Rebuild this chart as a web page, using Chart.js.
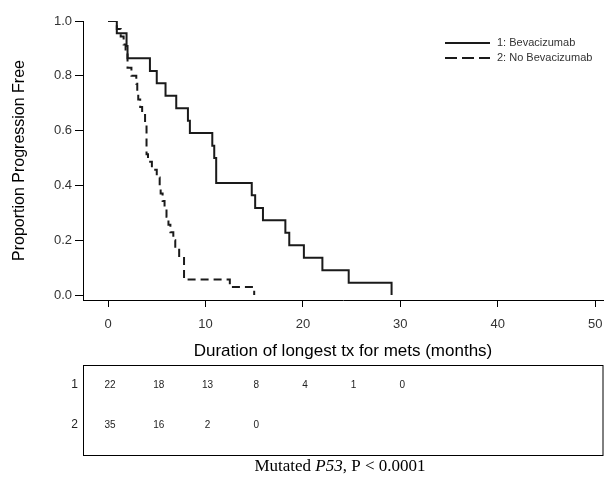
<!DOCTYPE html>
<html>
<head>
<meta charset="utf-8">
<script src="https://cdn.jsdelivr.net/npm/chart.js@4"></script>
<style>
  html, body { margin: 0; padding: 0; background: #fff; }
</style>
</head>
<body>
<canvas id="km" width="604" height="479"></canvas>
<script>
// Kaplan-Meier steps (months, proportion free after the drop)
const bevTimes = [0, 0.9, 1.9, 2.0, 4.3, 5.0, 5.9, 7.0, 8.2, 8.4, 10.7, 10.9, 11.1, 14.75, 15.1, 15.9, 18.2, 18.6, 20.1, 22.0, 24.7, 29.1];
const bevSurv = [1.0, 0.955, 0.909, 0.864, 0.818, 0.773, 0.727, 0.682, 0.636, 0.591, 0.545, 0.5, 0.409, 0.364, 0.318, 0.273, 0.227, 0.182, 0.136, 0.091, 0.045, 0];

const noBevTimes = [0, 0.9, 1.3, 1.6, 1.8, 2.0, 2.4, 2.9, 3.0, 3.1, 3.3, 3.5, 3.8, 3.95, 4.1, 4.5, 5.0, 5.3, 5.4, 5.6, 5.8, 6.0, 6.2, 6.4, 6.7, 6.9, 7.3, 7.8, 12.5, 15.0];
const noBevSurv = [1.0, 0.971, 0.943, 0.914, 0.886, 0.829, 0.8, 0.771, 0.743, 0.714, 0.686, 0.657, 0.629, 0.514, 0.486, 0.457, 0.429, 0.4, 0.371, 0.343, 0.314, 0.286, 0.257, 0.229, 0.2, 0.171, 0.143, 0.057, 0.029, 0];

const seriesLabels = ['1: Bevacizumab', '2: No Bevacizumab'];
const xTicks = [0, 10, 20, 30, 40, 50];
const yTicks = [0, 0.2, 0.4, 0.6, 0.8, 1.0];

// numbers at risk
const riskTimes = [0, 5, 10, 15, 20, 25, 30];
const riskBev = [22, 18, 13, 8, 4, 1, 0];
const riskNoBev = [35, 16, 2, 0];
const riskRowLabels = ['1', '2'];

const SANS = 'Arial, "Liberation Sans", sans-serif';
const SERIF = '"Times New Roman", "Liberation Serif", serif';
const toPoints = (xs, ys) => xs.map((x, i) => ({ x: x, y: ys[i] }));

const legendPlugin = {
  id: 'kmLegend',
  afterDraw(chart) {
    const ctx = chart.ctx;
    ctx.save();
    chart.data.datasets.forEach((ds, i) => {
      const y = 43 + i * 15;
      ctx.strokeStyle = ds.borderColor;
      ctx.lineWidth = 2;
      ctx.setLineDash(ds.borderDash ? [12, 5] : []);
      ctx.beginPath();
      ctx.moveTo(445, y);
      ctx.lineTo(490, y);
      ctx.stroke();
      ctx.setLineDash([]);
      ctx.fillStyle = '#333';
      ctx.font = '11px ' + SANS;
      ctx.textAlign = 'left';
      ctx.textBaseline = 'middle';
      ctx.fillText(ds.label, 497, y);
    });
    ctx.restore();
  }
};

const riskTablePlugin = {
  id: 'riskTable',
  afterDraw(chart) {
    const ctx = chart.ctx;
    const xs = chart.scales.x;
    const left = chart.chartArea.left;
    const right = chart.width - 1;
    ctx.save();
    ctx.strokeStyle = '#000';
    ctx.lineWidth = 1;
    ctx.strokeRect(left + 0.5, 365.5, right - left - 0.5, 90);

    const rows = [riskBev, riskNoBev];
    const rowY = [385, 425];
    rows.forEach((vals, r) => {
      ctx.fillStyle = '#222';
      ctx.font = '12px ' + SANS;
      ctx.textAlign = 'right';
      ctx.textBaseline = 'middle';
      ctx.fillText(riskRowLabels[r], left - 5, rowY[r]);
      ctx.font = '10px ' + SANS;
      ctx.textAlign = 'center';
      vals.forEach((v, i) => {
        ctx.fillText(String(v), xs.getPixelForValue(riskTimes[i]) + 2, rowY[r]);
      });
    });

    // caption with italic gene name
    const parts = [['Mutated ', ''], ['P53', 'italic '], [', P < 0.0001', '']];
    ctx.fillStyle = '#000';
    ctx.textAlign = 'left';
    ctx.textBaseline = 'middle';
    let total = 0;
    parts.forEach(p => { ctx.font = p[1] + '17px ' + SERIF; total += ctx.measureText(p[0]).width; });
    let x = 340 - total / 2;
    parts.forEach(p => {
      ctx.font = p[1] + '17px ' + SERIF;
      ctx.fillText(p[0], x, 467);
      x += ctx.measureText(p[0]).width;
    });
    ctx.restore();
  }
};

new Chart(document.getElementById('km').getContext('2d'), {
  type: 'line',
  data: {
    datasets: [
      {
        label: seriesLabels[0],
        data: toPoints(bevTimes, bevSurv),
        borderColor: '#1a1a1a',
        borderWidth: 2,
        stepped: true,
        pointRadius: 0,
        fill: false
      },
      {
        label: seriesLabels[1],
        data: toPoints(noBevTimes, noBevSurv),
        borderColor: '#1a1a1a',
        borderWidth: 2,
        borderDash: [8, 5],
        stepped: true,
        pointRadius: 0,
        fill: false
      }
    ]
  },
  options: {
    responsive: false,
    animation: false,
    layout: { padding: { left: 10, right: 1, top: 21, bottom: 117 } },
    plugins: {
      legend: { display: false },
      tooltip: { enabled: false }
    },
    scales: {
      x: {
        type: 'linear',
        min: -2.57,
        max: 50.8,
        afterBuildTicks: s => { s.ticks = xTicks.map(v => ({ value: v })); },
        afterFit: s => { s.height = 62; s.paddingLeft = 0; s.paddingRight = 0; },
        grid: { drawOnChartArea: false, drawTicks: true, tickLength: 7, color: '#000' },
        border: { display: true, color: '#000', width: 1 },
        ticks: { color: '#333', font: { size: 13, family: SANS }, padding: 10, maxRotation: 0 },
        title: {
          display: true,
          text: 'Duration of longest tx for mets (months)',
          color: '#000',
          font: { size: 17, family: SANS },
          padding: { top: 4, bottom: 0 }
        }
      },
      y: {
        min: -0.018,
        max: 1.0,
        afterBuildTicks: s => { s.ticks = yTicks.map(v => ({ value: v })); },
        afterFit: s => { s.width = 73; s.paddingTop = 0; s.paddingBottom = 0; },
        grid: { drawOnChartArea: false, drawTicks: true, tickLength: 8, color: '#000' },
        border: { display: true, color: '#000', width: 1 },
        ticks: { color: '#333', font: { size: 13, family: SANS }, padding: 3, callback: v => v.toFixed(1) },
        title: {
          display: true,
          text: 'Proportion Progression Free',
          color: '#000',
          font: { size: 16, family: SANS },
          padding: 0
        }
      }
    }
  },
  plugins: [legendPlugin, riskTablePlugin]
});
</script>
</body>
</html>
